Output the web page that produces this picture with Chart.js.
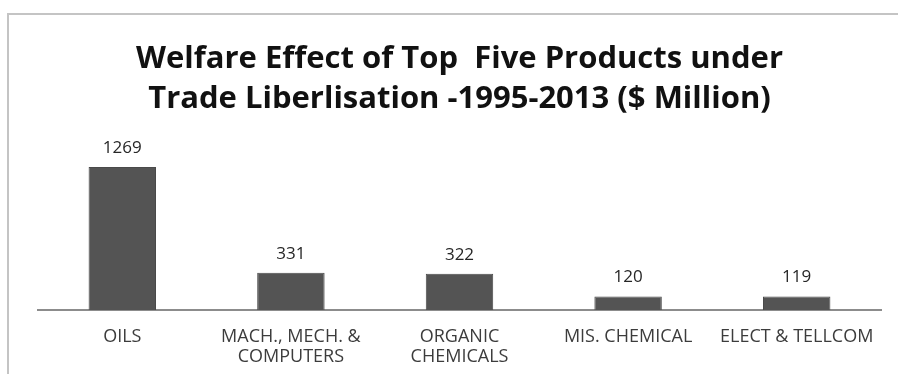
<!DOCTYPE html>
<html>
<head>
<meta charset="utf-8">
<script src="https://cdn.jsdelivr.net/npm/chart.js@4.4.1/dist/chart.umd.min.js"></script>
<style>
  html, body { margin: 0; padding: 0; background: #fff; }
  #wrap { position: relative; width: 898px; height: 374px; overflow: hidden; }
  #frame { position: absolute; left: 7px; top: 13px; width: 920px; height: 400px;
           border-left: 2px solid #c4c4c4; border-top: 2px solid #c4c4c4; }
  canvas { position: absolute; left: 0; top: 0; }
</style>
</head>
<body>
<div id="wrap">
  <div id="frame"></div>
  <canvas id="c" width="898" height="374"></canvas>
</div>
<script>
// Welfare effect per product group, $ million
const categories = [
  'OILS',
  ['MACH., MECH. &', 'COMPUTERS'],
  ['ORGANIC', 'CHEMICALS'],
  'MIS. CHEMICAL',
  'ELECT & TELLCOM'
];
const welfareValues = [1269, 331, 322, 120, 119];
const titleLines = [
  'Welfare Effect of Top  Five Products under',
  'Trade Liberlisation -1995-2013 ($ Million)'
];

// Writes each bar's value just above it
const valueLabels = {
  id: 'valueLabels',
  afterDatasetsDraw(chart) {
    const ctx = chart.ctx;
    const meta = chart.getDatasetMeta(0);
    const data = chart.data.datasets[0].data;
    ctx.save();
    ctx.font = '17px "Open Sans", "Liberation Sans", sans-serif';
    ctx.fillStyle = '#262626';
    ctx.textAlign = 'center';
    ctx.textBaseline = 'middle';
    meta.data.forEach((bar, i) => {
      ctx.fillText(String(data[i]), bar.x, bar.y - 19);
    });
    ctx.restore();
  }
};

new Chart(document.getElementById('c'), {
  type: 'bar',
  data: {
    labels: categories,
    datasets: [{
      data: welfareValues,
      backgroundColor: '#545454',
      borderColor: '#4a4a4a',
      borderWidth: 1,
      barPercentage: 0.4,
      categoryPercentage: 1.0
    }]
  },
  options: {
    responsive: false,
    animation: false,
    devicePixelRatio: 1,
    layout: { padding: { left: 38, right: 17, top: 0, bottom: 0 } },
    plugins: {
      legend: { display: false },
      tooltip: { enabled: false },
      title: {
        display: true,
        text: titleLines,
        color: '#111',
        font: { family: '"Open Sans", "Liberation Sans", sans-serif', size: 31, weight: 'bold', lineHeight: 1.29 },
        padding: { top: 39, bottom: 11 }
      }
    },
    scales: {
      x: {
        grid: { display: false, drawTicks: false },
        border: { display: true, color: '#8c8c8c', width: 2 },
        ticks: {
          color: '#3c3c3c',
          font: { family: '"Open Sans", "Liberation Sans", sans-serif', size: 18, lineHeight: 1.1 },
          padding: 17,
          maxRotation: 0,
          autoSkip: false
        },
        afterFit(scale) { scale.height = 64; }
      },
      y: {
        display: false,
        min: 0,
        max: 1597
      }
    }
  },
  plugins: [valueLabels]
});
</script>
</body>
</html>
